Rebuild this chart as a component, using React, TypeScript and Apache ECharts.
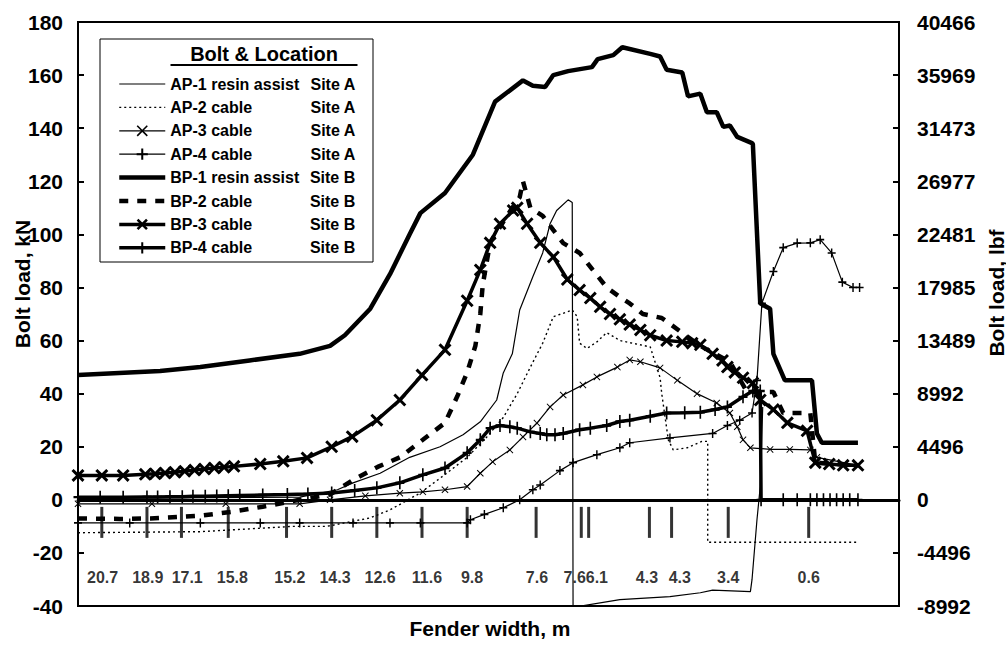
import React, { useEffect, useRef } from "react";
import * as echarts from "echarts";

type P = [number, number];

// x: relative position along the record (0 = left edge, 100 = right edge), y: bolt load in kN
const ap1: P[] = [[0,0.5],[27,1],[31.6,3.8],[33.5,6.4],[36.8,10],[40.4,16],[44.1,20],[46.9,24.5],[49,29.4],[51,37.6],[51.8,47.8],[52.9,55],[53.8,71.5],[55.4,84],[56.6,93],[57.5,104],[58.3,109],[59.7,113],[60.2,112],[60.3,-40.5],[66,-37.6],[72.1,-36.5],[75.8,-35],[77.3,-34],[81.9,-34.6],[82.1,-30],[82.7,-7.5],[83.1,5],[83.4,35]];
const ap2: P[] = [[0,-12.4],[14.9,-12],[26.2,-10],[30.3,-10],[35.6,-6.8],[38,-3.8],[41.7,2.6],[44.9,10],[47.4,16],[49.8,23.7],[51.8,31],[53.5,40],[55.1,50],[56.6,59],[57.9,69],[59.6,70.8],[60.2,71.5],[60.8,69],[61.1,59],[62,57],[63.2,59.5],[64.4,63],[66,60],[69.7,57.6],[70.9,46],[71.1,40],[71.9,22.6],[72.5,18.8],[74.2,19.6],[76,22],[76.7,22],[76.7,-16],[95,-16]];
const ap3: P[] = [[0,-1.5],[9,-1.5],[18,-1.5],[27,-1.5],[30.7,0],[35,1.5],[39.2,2.5],[42,3],[44.7,3.8],[47.4,5],[49,10],[50.5,14.3],[52.6,18.8],[54.2,23.7],[55.9,28.9],[57.5,35],[59.1,39.5],[61.5,43.3],[63.2,46.3],[65.7,50],[67.2,52.7],[68.5,52],[70.9,49.7],[73,45],[75.4,40],[77.8,36.5],[79.4,32.7],[80.3,27.5],[81,22.6],[81.9,19.6],[84.3,19],[86.7,19],[89.2,18.8],[90,16],[95,13]];
const ap4: P[] = [[0,-8.7],[6.3,-8.7],[14.9,-8.7],[22.2,-8.7],[27,-8.7],[33.5,-8.7],[38,-8.7],[41.7,-8.7],[47.4,-8.7],[47.8,-7.5],[49.5,-5.5],[51.8,-3],[53.8,0],[55.4,3.8],[56.3,5.6],[58.7,11],[60.3,14],[63.2,17],[66,19.6],[67.2,21.5],[72.1,23.3],[77.3,25],[79.1,28],[80.6,30],[82.1,32.7],[82.7,45],[83.3,74],[84.7,86],[85.9,95],[87.6,96.7],[89.2,96.8],[90.4,98],[91.8,93],[93.1,82],[94.4,80],[95.2,80]];
const bp1: P[] = [[0,47],[10,48.5],[14.9,50],[20.9,52.5],[27,55],[30.7,58],[32.5,62],[35.6,72],[38,85],[40.4,100],[41.7,108],[44.7,115.6],[48.1,130],[50.8,150],[54.2,158],[55.4,156],[56.9,155.5],[57.9,160],[59.7,161.5],[62.6,163],[63.3,166],[65.2,167.5],[66.3,170.5],[69.7,168],[70.9,167],[71.7,162],[73.6,161],[74.3,152],[75.8,153],[76.6,146],[77.8,146],[78.6,140.5],[79.4,141],[80.3,136.7],[82.1,134.4],[82.2,134],[83.1,74],[84.3,72],[84.7,55],[86.1,45],[89.4,45],[90,25],[90.6,21.5],[95,21.5]];
const bp2: P[] = [[0,-7],[5.1,-7.2],[8.8,-7],[14.9,-6],[18.8,-4.5],[22.5,-2.6],[27,0],[30.7,2],[33.5,7.5],[36.5,12.4],[39.2,16],[42,22.6],[44.7,29],[46.2,39],[47.4,48],[48.4,58],[49,70],[49.3,81],[50.2,97],[52.9,110],[53.8,114],[54.2,120],[55.1,110],[56.6,107],[57.9,101.6],[59.1,96.7],[61.1,93],[62.7,86.6],[64.4,80],[66,76.4],[67.2,74],[68.8,70],[71.1,68.5],[75.8,58],[79.4,52],[81.5,40.6],[84.7,40.6],[85.9,32.7],[89.2,32.7],[89.8,14],[95,13]];
const bp3: P[] = [[0,9.2],[2.9,9.2],[5.5,9.2],[8.2,9.6],[9.4,9.8],[10.6,10.1],[11.8,10.4],[13,10.8],[14.2,11.2],[15.4,11.6],[16.6,12],[17.8,12.3],[19,12.6],[22.2,13.5],[25,14.5],[27.9,15.8],[30.9,20],[33.4,23.8],[36.4,30],[39.2,37.6],[41.9,47],[44.7,56.5],[47.4,75],[49,86.6],[50.2,96.8],[51.4,104],[53,109],[53.5,110],[54.7,104],[56.3,96.8],[57.9,91.5],[59.6,83],[61.1,79],[62.4,76],[63.6,72.7],[64.8,70],[66,68],[67.2,66],[68.5,64],[69.7,62],[71.7,60],[73.6,59.5],[74.8,59],[75.8,58.4],[77.3,55],[78.5,52.5],[79.1,50],[80,48],[81,46],[82.2,44],[83.1,37.6],[84.7,34],[86.4,29],[88.8,26],[89.8,14],[91.5,13.5],[93.2,13],[95,13]];
const bp4: P[] = [[0,1],[2.7,1],[5.5,1],[8.4,1.1],[9.7,1.1],[11.2,1.2],[12.7,1.2],[14,1.3],[15.5,1.3],[16.9,1.4],[18.3,1.5],[19.7,1.6],[22.5,1.8],[25.5,2],[28,2.2],[30.9,2.6],[33.7,3.5],[36.4,4.5],[39.2,6.4],[42,9.4],[44.7,12],[47.4,17.7],[49,22.6],[50.2,27],[51.4,28],[52.6,27.5],[53.5,27],[55.1,25.6],[56.3,25],[57.1,24.5],[58.1,24.5],[59.1,25],[61.1,26.4],[62.4,27],[64.4,28],[66,29.5],[67.2,30],[69.7,31.5],[71.7,32.7],[73.9,32.8],[75.8,33],[77.6,34],[79.1,35],[81,38.8],[82.2,41],[83.1,41],[83.2,0],[85.9,0],[87.6,0],[89.2,0],[90,0],[90.8,0],[91.6,0],[92.4,0],[93.2,0],[94,0],[95,0]];

const seriesLabels = ["AP-1 resin assist", "AP-2 cable", "AP-3 cable", "AP-4 cable", "BP-1 resin assist", "BP-2 cable", "BP-3 cable", "BP-4 cable"];
const siteLabels = ["Site A", "Site A", "Site A", "Site A", "Site B", "Site B", "Site B", "Site B"];

// fender width markers along the record
const fenderLabels = ["20.7", "18.9", "17.1", "15.8", "15.2", "14.3", "12.6", "11.6", "9.8", "7.6", "7.6", "6.1", "4.3", "4.3", "3.4", "0.6"];
const fenderTickPos = [2.9, 8.4, 12.6, 18.3, 25.4, 30.9, 36.4, 41.9, 47.4, 55.8, 61.3, 62.2, 69.6, 72.3, 79.2, 89.0];
const fenderLabelPos = [3.0, 8.5, 13.3, 18.8, 25.8, 31.3, 36.8, 42.5, 48.0, 55.9, 60.5, 63.2, 69.3, 73.3, 79.2, 89.0];
const fenderTickY = -8.5;
const fenderLabelY = -29.4;

const LBF_PER_KN = 224.809;

const X_THICK = "path://M0,1.6L1.6,0L5,3.4L8.4,0L10,1.6L6.6,5L10,8.4L8.4,10L5,6.6L1.6,10L0,8.4L3.4,5Z";
const X_THIN = "path://M0,1L1,0L5,4L9,0L10,1L6,5L10,9L9,10L5,6L1,10L0,9L4,5Z";
const PLUS = "path://M4.1,0H5.9V4.1H10V5.9H5.9V10H4.1V5.9H0V4.1H4.1Z";
const FONT = "Liberation Sans";
const noMarker = [true, true, false, false, true, true, false, false];
const widths = [1.2, 1.4, 1.2, 1.2, 4.5, 4.5, 3.5, 3.5];

export default function App() {
  const ref = useRef<HTMLDivElement>(null);
  useEffect(() => {
    if (!ref.current) return;
    const chart = echarts.init(ref.current, null, { renderer: "svg" });
    const names = seriesLabels.map((s, i) => s + " " + siteLabels[i]);
    const line = (i: number, data: P[], extra: any = {}) => ({
      type: "line",
      name: names[i],
      data,
      symbol: "none",
      z: 3,
      lineStyle: { color: "#000", width: widths[i], ...(extra.lineStyle || {}) },
      itemStyle: { color: "#000" },
      ...extra.rest,
    });
    const option: any = {
      animation: false,
      backgroundColor: "#fff",
      textStyle: { fontFamily: FONT },
      grid: { left: 78, right: 107, top: 22, bottom: 42, show: true, borderColor: "#000", borderWidth: 2 },
      xAxis: {
        type: "value", min: 0, max: 100,
        axisLine: { onZero: true, lineStyle: { color: "#000", width: 3 } },
        axisTick: { show: false }, axisLabel: { show: false }, splitLine: { show: false },
      },
      yAxis: [
        {
          type: "value", min: -40, max: 180, interval: 20, position: "left",
          axisLine: { show: true, onZero: false, lineStyle: { color: "#000", width: 2 } },
          axisTick: { show: true, inside: true, length: 6, lineStyle: { color: "#000", width: 2 } },
          axisLabel: { margin: 15, color: "#000", fontSize: 21, fontWeight: "bold", fontFamily: FONT },
          splitLine: { show: false },
        },
        {
          type: "value", min: -40, max: 180, interval: 20, position: "right",
          axisLine: { show: true, onZero: false, lineStyle: { color: "#000", width: 2 } },
          axisTick: { show: true, inside: true, length: 6, lineStyle: { color: "#000", width: 2 } },
          axisLabel: {
            margin: 18, color: "#000", fontSize: 21, fontWeight: "bold", fontFamily: FONT,
            formatter: (v: number) => String(Math.round(v * LBF_PER_KN)),
          },
          splitLine: { show: false },
        },
      ],
      legend: {
        orient: "vertical", left: 117, top: 76, padding: 0,
        itemWidth: 46, itemHeight: 14, itemGap: 7.4, selectedMode: false,
        data: names.map((n, i) =>
          noMarker[i]
            ? { name: n, itemStyle: { opacity: 0 }, lineStyle: { width: widths[i] } }
            : { name: n, lineStyle: { width: widths[i] } }
        ),
        formatter: (name: string) => {
          const i = names.indexOf(name);
          return `{a|${seriesLabels[i]}}{b|${siteLabels[i]}}`;
        },
        textStyle: {
          color: "#000", fontSize: 16, fontWeight: "bold", fontFamily: FONT, lineHeight: 14,
          rich: {
            a: { width: 133, color: "#000", fontSize: 16, fontWeight: "bold", fontFamily: FONT, lineHeight: 14 },
            b: { width: 52, align: "right", color: "#000", fontSize: 16, fontWeight: "bold", fontFamily: FONT, lineHeight: 14 },
          },
        },
      },
      graphic: {
        elements: [
          { type: "rect", id: "box", z: 1, shape: { x: 100, y: 39, width: 273, height: 223 }, style: { fill: "#fff", stroke: "#000", lineWidth: 1 } },
          {
            type: "text", id: "ttl", z: 50, x: 264, y: 66,
            style: {
              text: "{t|Bolt & Location}\n{u| }",
              textAlign: "center", textVerticalAlign: "bottom",
              rich: {
                t: { fontSize: 20, fontWeight: "bold", fontFamily: FONT, fill: "#000", color: "#000", lineHeight: 20, height: 20 },
                u: { fontSize: 1, lineHeight: 2, height: 2, width: 187, backgroundColor: "#000" },
              },
            },
          },
          { type: "text", id: "ylab", x: 22, y: 284, rotation: Math.PI / 2, style: { text: "Bolt load, kN", fontSize: 21, fontWeight: "bold", fontFamily: FONT, fill: "#000", textAlign: "center", textVerticalAlign: "middle" } },
          { type: "text", id: "ylab2", x: 996, y: 293, rotation: Math.PI / 2, style: { text: "Bolt load, lbf", fontSize: 21, fontWeight: "bold", fontFamily: FONT, fill: "#000", textAlign: "center", textVerticalAlign: "middle" } },
          { type: "text", id: "xlab", x: 490, y: 628, style: { text: "Fender width, m", fontSize: 21, fontWeight: "bold", fontFamily: FONT, fill: "#000", textAlign: "center", textVerticalAlign: "middle" } },
        ],
      },
      series: [
        line(0, ap1),
        line(1, ap2, { lineStyle: { type: [2, 3] } }),
        line(2, ap3, { rest: { symbol: X_THIN, symbolSize: 7, showSymbol: true } }),
        line(3, ap4, { rest: { symbol: PLUS, symbolSize: [8, 9], showSymbol: true } }),
        line(4, bp1),
        line(5, bp2, { lineStyle: { type: [9, 9] } }),
        line(6, bp3, { rest: { symbol: X_THICK, symbolSize: 13, showSymbol: true } }),
        line(7, bp4, { rest: { symbol: PLUS, symbolSize: [9, 13], showSymbol: true } }),
        {
          type: "scatter", name: "fender ticks", z: 4, symbol: "rect", symbolSize: [3, 31],
          itemStyle: { color: "#000" },
          data: fenderTickPos.map((x) => [x, fenderTickY]),
        },
        {
          type: "scatter", name: "fender labels", z: 4, symbolSize: 0,
          itemStyle: { color: "transparent" },
          label: { show: true, position: "inside", formatter: "{b}", color: "#000", fontSize: 16, fontWeight: "bold", fontFamily: FONT },
          data: fenderLabelPos.map((x, i) => ({ name: fenderLabels[i], value: [x, fenderLabelY] })),
        },
      ],
    };
    chart.setOption(option);
    return () => chart.dispose();
  }, []);
  return <div ref={ref} style={{ position: "absolute", left: 0, top: 0, width: 1006, height: 648 }} />;
}
